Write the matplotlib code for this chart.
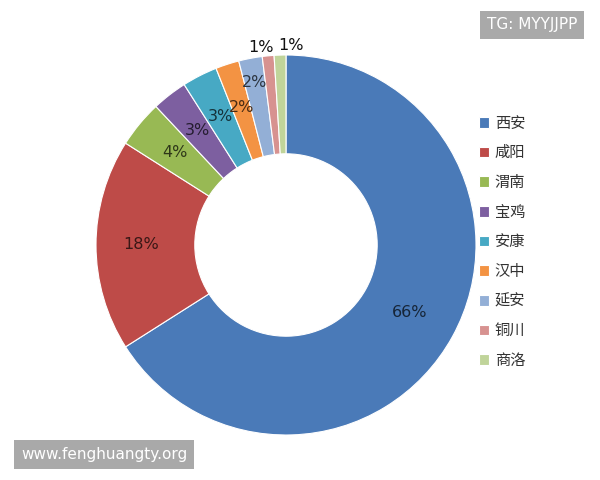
import numpy as np
import matplotlib
matplotlib.use("Agg")
import matplotlib.pyplot as plt
import matplotlib.colors as mcolors

plt.rcParams['font.family'] = ['Noto Sans CJK SC', 'DejaVu Sans']

cities = ["西安", "咸阳", "渭南", "宝鸡", "安康", "汉中", "延安", "铜川", "商洛"]
shares = [66, 18, 4, 3, 3, 2, 2, 1, 1]
colors = ["#4A7AB8", "#BE4B48", "#98B954", "#7D5FA0", "#47A9C4",
          "#F39343", "#93AFD6", "#D79290", "#C0D49A"]
# label radius (fraction of outer radius) and small angle nudges for crowded slices
label_r = [0.74, 0.76, 0.76, 0.76, 0.76, 0.76, 0.87, 1.05, 1.05]
label_nudge = [0, 0, 0, 0, 0, 0, 0, 1.8, -3.3]

fig = plt.figure(figsize=(6, 4.8), dpi=100)
ax = fig.add_axes([0, 0, 1, 1])

wedges, _ = ax.pie(shares, colors=colors, startangle=90, counterclock=False,
                   radius=1.0, wedgeprops=dict(width=0.52, edgecolor="white", linewidth=0.8))
ax.set_aspect("equal")
ax.set_xlim(-286 / 190, 314 / 190)
ax.set_ylim(-235 / 190, 245 / 190)
ax.axis("off")

for w, val, r, nudge, c in zip(wedges, shares, label_r, label_nudge, colors):
    ang = np.deg2rad((w.theta1 + w.theta2) / 2 + nudge)
    if r > 1:
        tc = "#111111"
    else:
        tc = tuple(np.array(mcolors.to_rgb(c)) * 0.3)
    ax.text(r * np.cos(ang), r * np.sin(ang), f"{val}%", ha="center", va="center",
            fontsize=11.5, color=tc, family=["DejaVu Sans"])

leg = fig.legend(wedges, cities, loc="upper left", bbox_to_anchor=(0.775, 0.79),
                 frameon=False, fontsize=11, handlelength=0.7, handleheight=0.7,
                 handletextpad=0.35, labelspacing=0.83, labelcolor="#333333")

fig.text(0.9625, 0.948, "TG: MYYJJPP", ha="right", va="center", color="white",
         fontsize=11, family=["DejaVu Sans"],
         bbox=dict(boxstyle="square,pad=0.45", facecolor="#A9A9A9", edgecolor="none"))
fig.text(0.035, 0.0535, "www.fenghuangty.org", ha="left", va="center", color="white",
         fontsize=11, family=["DejaVu Sans"],
         bbox=dict(boxstyle="square,pad=0.45", facecolor="#A9A9A9", edgecolor="none"))

fig.savefig("out.png", dpi=100)
